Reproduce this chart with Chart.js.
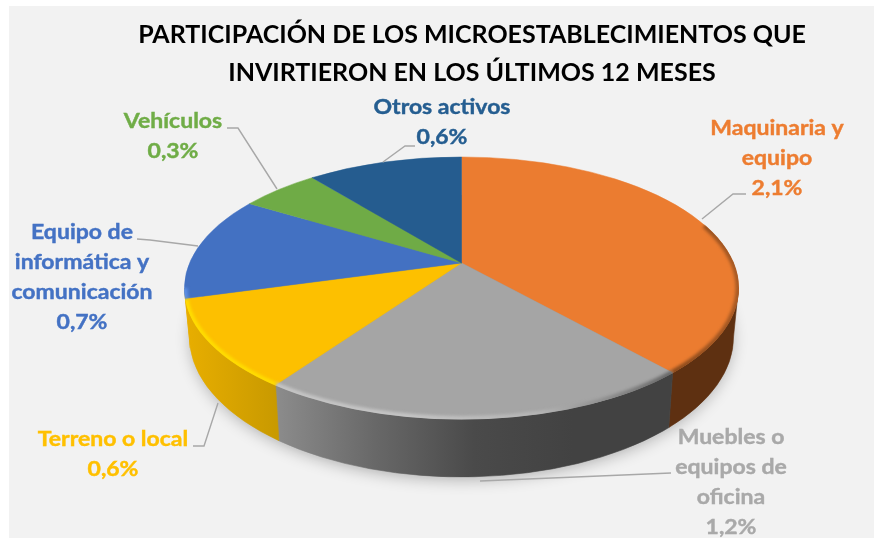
<!DOCTYPE html>
<html>
<head>
<meta charset="utf-8">
<title>Microestablecimientos</title>
<script src="https://cdn.jsdelivr.net/npm/chart.js@4"></script>
<style>
  html, body { margin: 0; padding: 0; background: #ffffff; }
  canvas { display: block; filter: blur(0.45px); }
</style>
</head>
<body>
<canvas id="pieChart" width="874" height="539"></canvas>
<script>
// Datos del grafico
const categories = ['Maquinaria y equipo', 'Muebles o equipos de oficina', 'Terreno o local', 'Equipo de informática y comunicación', 'Vehículos', 'Otros activos'];
const values = [2.1, 1.2, 0.6, 0.7, 0.3, 0.6];
const labelLines = [
    ['Maquinaria y', 'equipo'],
    ['Muebles o', 'equipos de', 'oficina'],
    ['Terreno o local'],
    ['Equipo de', 'informática y', 'comunicación'],
    ['Vehículos'],
    ['Otros activos']
];
const titleLines = ['PARTICIPACIÓN DE LOS MICROESTABLECIMIENTOS QUE', 'INVIRTIERON EN LOS ÚLTIMOS 12 MESES'];

// Colores
const faceColors = ['#eb7c30', '#a5a5a5', '#fdc000', '#4371c2', '#6fab46', '#255c8f'];
const textColors = ['#ed7d31', '#a9a9a9', '#ffc000', '#4472c4', '#70ad47', '#255e91'];
const wallStops = [
    ['#5e3011', '#5e3011'],
    ['#8c8c8c', '#686868', '#4a4a4a', '#424242', '#424242'],
    ['#e8ae00', '#c99a00'],
    ['#e8ae00', '#e8ae00'],
    ['#70ad47', '#70ad47'],
    ['#255e91', '#255e91']
];
const rimStops = [
    ['#8a4a1c', '#a85a24'],
    ['#c4c4c4', '#c4c4c4', '#b4b4b4', '#666666'],
    ['#ffdc00', '#ffdc00'],
    ['#5c8fe6', '#5c8fe6'],
    ['#70ad47', '#70ad47'],
    ['#255e91', '#255e91']
];

// Geometria de la vista 3D, relativa al centro del arco de Chart.js
const view = {
    dx: -10.5, skew: 10.5 * Math.PI / 180,
    top: { dy: 25, rx: 1, ry: 0.473 },
    bottom: { dy: 74, rx: 0.982, ry: 0.505 }
};

// Posicion de etiquetas: centro x, centro y de la primera linea
const labelPos = [[777, 128], [731, 437], [113, 439], [82, 232], [173, 121], [442, 107]];
const leaders = [
    [[746, 194], [733, 194], [702, 219]],
    [[671, 473], [480, 481]],
    [[193, 446], [204, 446], [218, 403]],
    [[137, 239], [150, 240], [198, 246]],
    [[227, 128], [238, 128], [277, 189]],
    [[415, 146], [405, 146], [383, 162]]
];

function gradient(ctx, x0, x1, stops) {
    const g = ctx.createLinearGradient(x0, 0, x1, 0);
    stops.forEach((c, i) => g.addColorStop(i / (stops.length - 1), c));
    return g;
}

const pie3d = {
    id: 'pie3d',
    beforeDraw(chart) {
        const ctx = chart.ctx;
        ctx.save();
        ctx.fillStyle = '#f2f2f2';
        ctx.fillRect(9, 6, 865, 532);
        ctx.restore();
    },
    beforeDatasetsDraw(chart) {
        const ctx = chart.ctx;
        const arcs = chart.getDatasetMeta(0).data;
        const R = arcs[0].outerRadius;
        const ax = arcs[0].x + view.dx;
        const ay = arcs[0].y;
        const cx = ax;
        const t = { y: ay + view.top.dy, rx: R * view.top.rx, ry: R * view.top.ry };
        const b = { y: ay + view.bottom.dy, rx: R * view.bottom.rx, ry: R * view.bottom.ry };

        // angulo de Chart.js a angulo en pantalla (canvas)
        const screen = a => {
            const phi = a + Math.PI / 2;
            return phi - view.skew * Math.sin(phi) - Math.PI / 2;
        };

        ctx.save();
        // sombra bajo la torta
        ctx.save();
        ctx.shadowColor = 'rgba(0,0,0,0.3)';
        ctx.shadowBlur = 16;
        ctx.shadowOffsetY = 4;
        ctx.fillStyle = '#8a8a8a';
        ctx.beginPath();
        ctx.ellipse(cx, b.y - 2, b.rx - 2, b.ry, 0, 0, Math.PI * 2);
        ctx.fill();
        ctx.restore();

        // paredes
        arcs.forEach((arc, i) => {
            const s = Math.max(screen(arc.startAngle), 0);
            const e = Math.min(screen(arc.endAngle), Math.PI);
            if (e <= s) return;
            const x0 = cx + t.rx * Math.cos(e);
            const x1 = cx + t.rx * Math.cos(s);
            ctx.fillStyle = gradient(ctx, x0, x1, wallStops[i]);
            ctx.strokeStyle = ctx.fillStyle;
            ctx.lineWidth = 0.6;
            ctx.beginPath();
            ctx.ellipse(cx, t.y, t.rx, t.ry, 0, s, e);
            ctx.ellipse(cx, b.y, b.rx, b.ry, 0, e, s, true);
            ctx.closePath();
            ctx.fill();
            ctx.stroke();
        });

        // cara superior
        arcs.forEach((arc, i) => {
            ctx.fillStyle = faceColors[i];
            ctx.strokeStyle = faceColors[i];
            ctx.lineWidth = 0.5;
            ctx.beginPath();
            ctx.moveTo(ax, ay);
            ctx.ellipse(cx, t.y, t.rx, t.ry, 0, screen(arc.startAngle), screen(arc.endAngle));
            ctx.closePath();
            ctx.fill();
            ctx.stroke();
        });

        // brillo del borde, recortado a la cara superior
        ctx.save();
        ctx.beginPath();
        ctx.ellipse(cx, t.y, t.rx + 0.5, t.ry + 0.5, 0, 0, Math.PI * 2);
        ctx.clip();
        ctx.filter = 'blur(1.4px)';
        ctx.lineWidth = 6;
        arcs.forEach((arc, i) => {
            const s = Math.max(screen(arc.startAngle), i === 0 ? -0.5 : 0);
            const e = Math.min(screen(arc.endAngle), Math.PI);
            if (e <= s) return;
            const x0 = cx + t.rx * Math.cos(e);
            const x1 = cx + t.rx * Math.cos(Math.max(s, 0));
            ctx.strokeStyle = gradient(ctx, x0, x1, rimStops[i]);
            ctx.beginPath();
            ctx.ellipse(cx, t.y, t.rx, t.ry, 0, s, e);
            ctx.stroke();
        });
        ctx.restore();

        // lineas guia
        ctx.strokeStyle = '#a8a8a8';
        ctx.lineWidth = 1.4;
        leaders.forEach(pts => {
            ctx.beginPath();
            pts.forEach((p, j) => j ? ctx.lineTo(p[0], p[1]) : ctx.moveTo(p[0], p[1]));
            ctx.stroke();
        });

        // etiquetas, un poco estiradas a lo ancho como en la imagen original
        ctx.font = 'bold 20px Lato';
        ctx.textAlign = 'center';
        ctx.textBaseline = 'middle';
        ctx.lineWidth = 0.4;
        values.forEach((v, i) => {
            const lines = labelLines[i].concat(v.toFixed(1).replace('.', ',') + '%');
            ctx.fillStyle = textColors[i];
            ctx.strokeStyle = textColors[i];
            lines.forEach((line, j) => {
                ctx.save();
                ctx.translate(labelPos[i][0], labelPos[i][1] + 1 + j * 30);
                ctx.scale(1.15, 1);
                ctx.fillText(line, 0, 0);
                ctx.strokeText(line, 0, 0);
                ctx.restore();
            });
        });
        ctx.restore();
        return false;
    }
};

const pieChart = new Chart(document.getElementById('pieChart'), {
    type: 'pie',
    plugins: [pie3d],
    data: {
        labels: categories,
        datasets: [{
            data: values,
            backgroundColor: faceColors,
            borderWidth: 0,
            radius: 277
        }]
    },
    options: {
        responsive: false,
        animation: false,
        layout: { padding: { left: 70, bottom: 105 } },
        plugins: {
            legend: { display: false },
            tooltip: { enabled: false },
            title: {
                display: true,
                text: titleLines,
                color: '#000000',
                font: { family: 'Lato', size: 25, weight: 'bold', lineHeight: 1.52 },
                padding: { top: 16, bottom: 0 }
            }
        }
    }
});
</script>
</body>
</html>
